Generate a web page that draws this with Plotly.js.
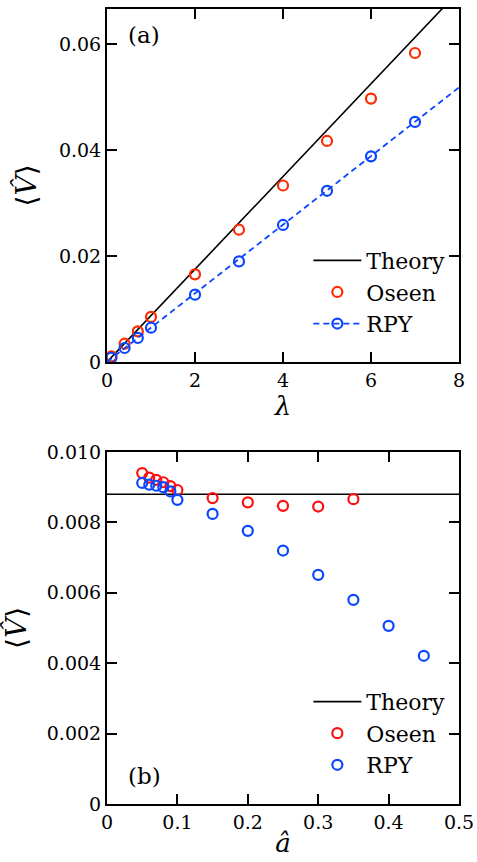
<!DOCTYPE html>
<html>
<head>
<meta charset="utf-8">
<script src="https://cdn.plot.ly/plotly-3.0.1.min.js"></script>
<style>html,body{margin:0;padding:0;background:#fff;}#chart{width:477px;height:862px;}</style>
</head>
<body>
<div id="chart"></div>
<script>
// Panel (a): <V> vs lambda
const lamOseen = [0.1, 0.4, 0.7, 1, 2, 3, 4, 5, 6, 7];
const vOseenA  = [0.00106, 0.00345, 0.00578, 0.0085, 0.01653, 0.02496, 0.0333, 0.0417, 0.0497, 0.0583];
const lamRPY   = [0.1, 0.4, 0.7, 1, 2, 3, 4, 5, 6, 7];
const vRPYA    = [0.0008, 0.00264, 0.00453, 0.00647, 0.0127, 0.01898, 0.02585, 0.0323, 0.0388, 0.0453];
const theoryAX = [0, 8];
const theoryAY = [0, 0.07];
const fitAX    = [0, 8];
const fitAY    = [0, 0.0518];

// Panel (b): <V> vs a-hat
const aOseen   = [0.05, 0.06, 0.07, 0.08, 0.09, 0.1, 0.15, 0.2, 0.25, 0.3, 0.35];
const vOseenB  = [0.0094, 0.00927, 0.00921, 0.00914, 0.00903, 0.00892, 0.00869, 0.00857, 0.00847, 0.00845, 0.00866];
const aRPY     = [0.05, 0.06, 0.07, 0.08, 0.09, 0.1, 0.15, 0.2, 0.25, 0.3, 0.35, 0.4, 0.45];
const vRPYB    = [0.00912, 0.00907, 0.00904, 0.00900, 0.00888, 0.00864, 0.00824, 0.00776, 0.00720, 0.00651, 0.00580, 0.00506, 0.00421];
const theoryBX = [0, 0.5];
const theoryBY = [0.0088, 0.0088];

const xTicksA = [0, 2, 4, 6, 8];
const yTicksA = [0, 0.02, 0.04, 0.06];
const yTextA  = ['0', '0.02', '0.04', '0.06'];
const xTicksB = [0, 0.1, 0.2, 0.3, 0.4, 0.5];
const xTextB  = ['0', '0.1', '0.2', '0.3', '0.4', '0.5'];
const yTicksB = [0, 0.002, 0.004, 0.006, 0.008, 0.010];
const yTextB  = ['0', '0.002', '0.004', '0.006', '0.008', '0.010'];

const RED_A = '#ff2a00', RED_B = '#ff1010', BLUE = '#0a46ff';
const FONT = '"DejaVu Serif", "Liberation Serif", serif';
const mk = (c) => ({symbol: 'circle-open', size: 10, color: c, line: {color: c, width: 2.2}});

const traces = [
  {x: theoryAX, y: theoryAY, mode: 'lines', name: 'Theory', line: {color: 'black', width: 1.6}, xaxis: 'x', yaxis: 'y', legend: 'legend'},
  {x: lamOseen, y: vOseenA, mode: 'markers', name: 'Oseen', marker: mk(RED_A), xaxis: 'x', yaxis: 'y', legend: 'legend'},
  {x: fitAX, y: fitAY, mode: 'lines', showlegend: false, line: {color: BLUE, width: 1.8, dash: '6px,4px'}, xaxis: 'x', yaxis: 'y'},
  {x: lamRPY, y: vRPYA, mode: 'markers', showlegend: false, marker: mk(BLUE), xaxis: 'x', yaxis: 'y'},
  {x: [null], y: [null], mode: 'lines+markers', name: 'RPY', marker: mk(BLUE), line: {color: BLUE, width: 1.8, dash: '6px,4px'}, xaxis: 'x', yaxis: 'y', legend: 'legend'},

  {x: theoryBX, y: theoryBY, mode: 'lines', name: 'Theory', line: {color: 'black', width: 1.6}, xaxis: 'x2', yaxis: 'y2', legend: 'legend2'},
  {x: aOseen, y: vOseenB, mode: 'markers', name: 'Oseen', marker: mk(RED_B), xaxis: 'x2', yaxis: 'y2', legend: 'legend2'},
  {x: aRPY, y: vRPYB, mode: 'markers', name: 'RPY', marker: mk(BLUE), xaxis: 'x2', yaxis: 'y2', legend: 'legend2'}
];

const axBase = {
  showline: true, linecolor: 'black', linewidth: 2, mirror: 'ticks',
  ticks: 'inside', ticklen: 10, tickwidth: 2, tickcolor: 'black',
  showgrid: false, zeroline: false, tickmode: 'array',
  tickfont: {family: FONT, size: 19, color: 'black'}
};

const legBase = {
  font: {family: FONT, size: 22, color: 'black'},
  bgcolor: 'rgba(0,0,0,0)', borderwidth: 0, xanchor: 'left', yanchor: 'top',
  itemwidth: 48, tracegroupgap: 0
};

const titleFont = {family: FONT, size: 28, color: 'black'};

const layout = {
  width: 477, height: 862,
  margin: {l: 107, r: 18, t: 9, b: 58},
  paper_bgcolor: 'white', plot_bgcolor: 'white',
  showlegend: true,
  xaxis: Object.assign({}, axBase, {domain: [0, 1], anchor: 'y', range: [0, 8], tickvals: xTicksA,
    title: {text: '<i>λ</i>', font: {family: FONT, size: 26, color: 'black'}, standoff: 2}}),
  yaxis: Object.assign({}, axBase, {domain: [0.556, 1], anchor: 'x', range: [0, 0.0666], tickvals: yTicksA, ticktext: yTextA,
    title: {text: '⟨<i>V̂</i>⟩', font: titleFont, standoff: 14}}),
  xaxis2: Object.assign({}, axBase, {domain: [0, 1], anchor: 'y2', range: [0, 0.5], tickvals: xTicksB, ticktext: xTextB,
    title: {text: '<i>â</i>', font: {family: FONT, size: 26, color: 'black'}, standoff: 2}}),
  yaxis2: Object.assign({}, axBase, {domain: [0, 0.4428], anchor: 'x2', range: [0, 0.010], tickvals: yTicksB, ticktext: yTextB,
    title: {text: '⟨<i>V̂</i>⟩', font: titleFont, standoff: 14}}),
  legend: Object.assign({}, legBase, {x: 0.572, y: 0.71}),
  legend2: Object.assign({}, legBase, {x: 0.572, y: 0.155}),
  annotations: [
    {text: '(a)', xref: 'x domain', yref: 'y domain', x: 0.055, y: 0.925, xanchor: 'left', yanchor: 'middle', showarrow: false,
     font: {family: FONT, size: 23, color: 'black'}},
    {text: '(b)', xref: 'x2 domain', yref: 'y2 domain', x: 0.055, y: 0.08, xanchor: 'left', yanchor: 'middle', showarrow: false,
     font: {family: FONT, size: 23, color: 'black'}}
  ]
};

Plotly.newPlot('chart', traces, layout, {displayModeBar: false, staticPlot: true});
</script>
</body>
</html>
